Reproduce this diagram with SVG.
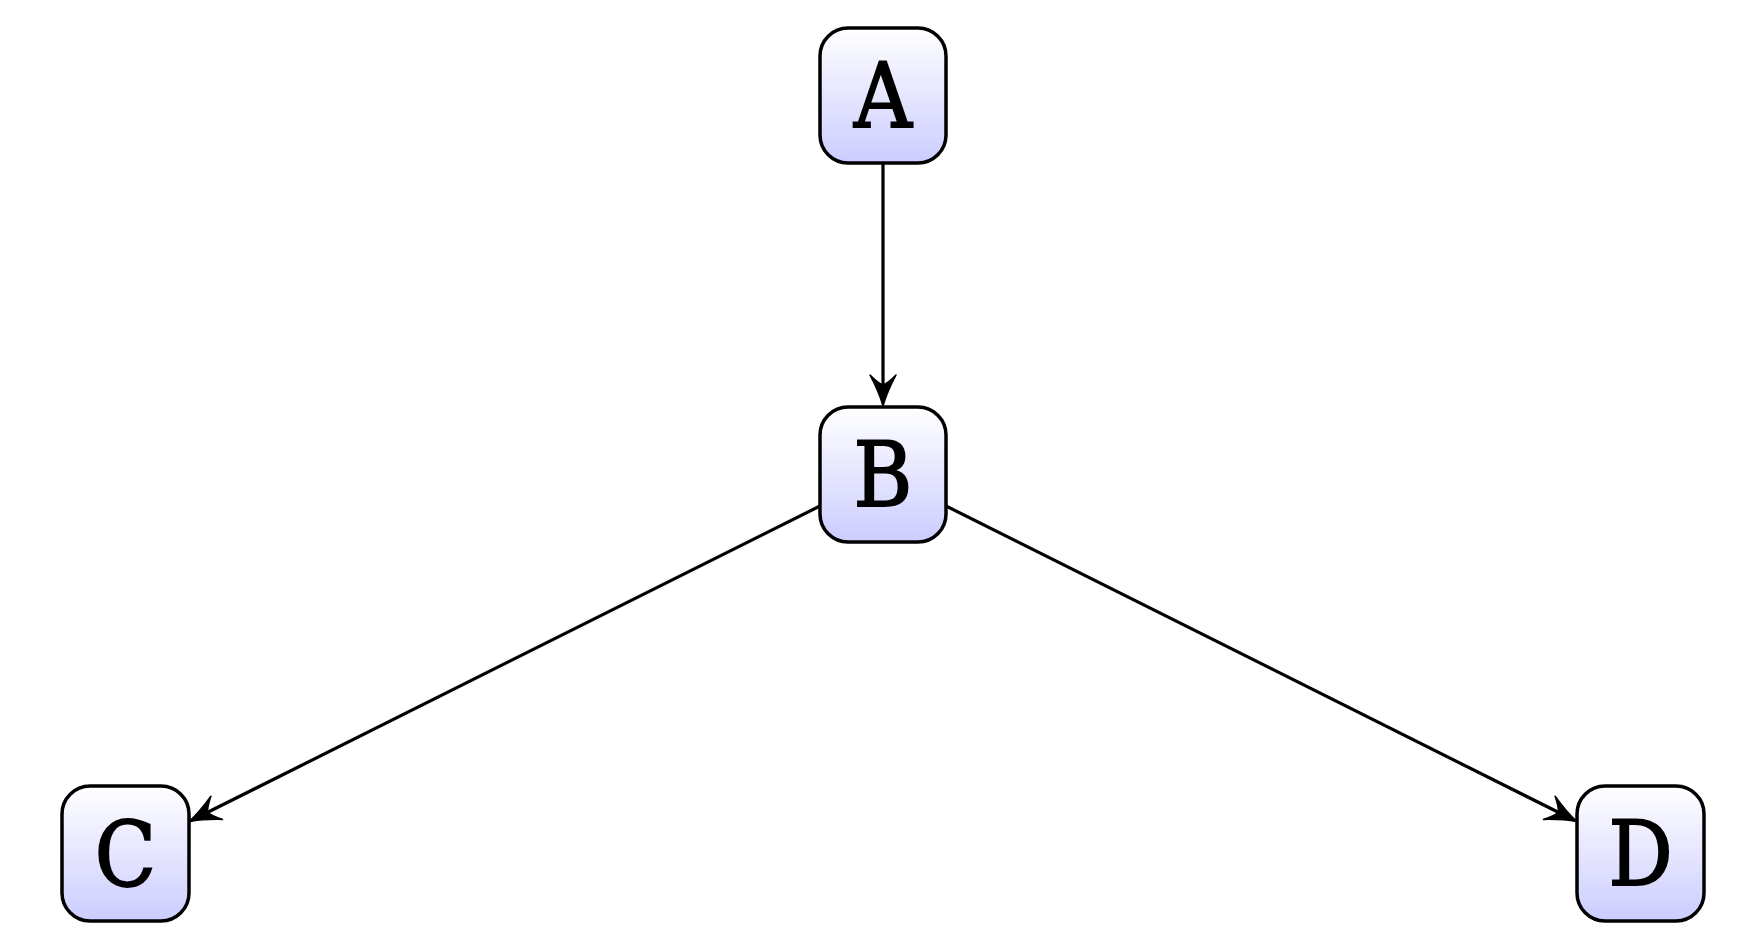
<svg xmlns="http://www.w3.org/2000/svg" width="1756" height="952" viewBox="0 0 1756 952">
<style>
.box{stroke:#000;stroke-width:3.5;fill:url(#g)}
.lbl{font-family:"DejaVu Serif Condensed","DejaVu Serif",serif;font-stretch:condensed;font-size:89px;fill:#000;stroke:#000;stroke-width:1.8;text-anchor:middle}
.edge{stroke:#000;stroke-width:3.2;fill:none;marker-end:url(#arr)}
</style>
<defs>
<linearGradient id="g" x1="0" y1="0" x2="0" y2="1">
<stop offset="0" stop-color="#ffffff"/>
<stop offset="1" stop-color="#ccccff"/>
</linearGradient>
<marker id="arr" markerUnits="userSpaceOnUse" viewBox="-40 -20 50 40" refX="-12" refY="0" markerWidth="50" markerHeight="40" orient="auto" overflow="visible">
<path d="M0,0 Q-14,-4 -31,-13 Q-22,-4 -21,0 Q-22,4 -31,13 Q-14,4 0,0 Z" fill="#000" stroke="#000" stroke-width="1.5" stroke-linejoin="round"/>
</marker>
</defs>
<rect width="1756" height="952" fill="#fff"/>
<g id="edges">
<line class="edge" x1="883" y1="163" x2="883" y2="394"/>
<line class="edge" x1="820" y1="506" x2="199.7" y2="816.3"/>
<line class="edge" x1="946" y1="506" x2="1566.3" y2="816.3"/>
</g>
<g id="A">
<rect class="box" x="820" y="28" width="126" height="135" rx="28"/>
<text class="lbl" x="883" y="127">A</text>
</g>
<g id="B">
<rect class="box" x="820" y="407" width="126" height="135" rx="28"/>
<text class="lbl" x="883" y="506">B</text>
</g>
<g id="C">
<rect class="box" x="62" y="786" width="127" height="135" rx="28"/>
<text class="lbl" x="125.5" y="886">C</text>
</g>
<g id="D">
<rect class="box" x="1577" y="786" width="127" height="135" rx="28"/>
<text class="lbl" x="1640.5" y="885">D</text>
</g>
</svg>
